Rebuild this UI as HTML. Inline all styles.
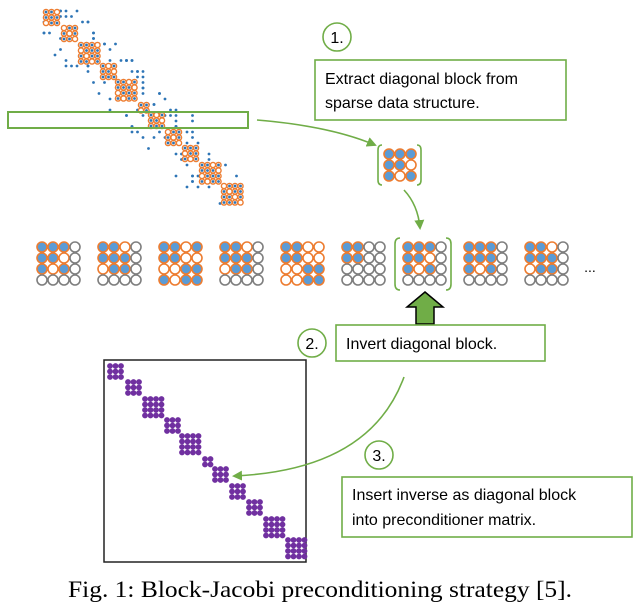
<!DOCTYPE html>
<html><head><meta charset="utf-8"><style>
html,body{margin:0;padding:0;background:#fff;width:637px;height:610px;overflow:hidden}
svg{display:block}
</style></head><body>
<svg id="s" width="637" height="610" viewBox="0 0 637 610" xmlns="http://www.w3.org/2000/svg">
<defs>
<marker id="ah" markerWidth="10" markerHeight="10" refX="8" refY="5" orient="auto" markerUnits="userSpaceOnUse"><path d="M0,0 L10,5 L0,10 z" fill="#70ad47"/></marker>
</defs>
<g id="top"></g>
<rect x="8" y="112" width="240" height="16" fill="none" stroke="#70ad47" stroke-width="2"/>
<path d="M257,120 Q330,126 375,145" fill="none" stroke="#70ad47" stroke-width="1.6" marker-end="url(#ah)"/>
<circle cx="337" cy="37" r="14" fill="#fff" stroke="#70ad47" stroke-width="1.6"/>
<text x="337" y="43" font-family="Liberation Sans, sans-serif" font-size="16" text-anchor="middle">1.</text>
<rect x="315" y="60" width="251" height="60" fill="#fff" stroke="#70ad47" stroke-width="1.6"/>
<text x="325" y="84" font-family="Liberation Sans, sans-serif" font-size="16">Extract diagonal block from</text>
<text x="325" y="108" font-family="Liberation Sans, sans-serif" font-size="16">sparse data structure.</text>
<g id="ext"></g>
<path d="M382,145 Q378,145 378,150 L378,180 Q378,185 382,185" fill="none" stroke="#70ad47" stroke-width="1.6"/>
<path d="M417,145 Q421,145 421,150 L421,180 Q421,185 417,185" fill="none" stroke="#70ad47" stroke-width="1.6"/>
<path d="M404,190 Q418,205 420,228" fill="none" stroke="#70ad47" stroke-width="1.6" marker-end="url(#ah)"/>
<g id="row"></g>
<path d="M400,238 Q395,238 395,244 L395,284 Q395,290 400,290" fill="none" stroke="#70ad47" stroke-width="1.6"/>
<path d="M446,238 Q451,238 451,244 L451,284 Q451,290 446,290" fill="none" stroke="#70ad47" stroke-width="1.6"/>
<text x="590" y="272" font-family="Liberation Sans, sans-serif" font-size="14" text-anchor="middle">...</text>
<path d="M425,292 L443,307 L434,307 L434,324 L416,324 L416,307 L407,307 z" fill="#70ad47" stroke="#000" stroke-width="1.5"/>
<circle cx="312" cy="343" r="14" fill="#fff" stroke="#70ad47" stroke-width="1.6"/>
<text x="312" y="349" font-family="Liberation Sans, sans-serif" font-size="16" text-anchor="middle">2.</text>
<rect x="336" y="325" width="209" height="36" fill="#fff" stroke="#70ad47" stroke-width="1.6"/>
<text x="346" y="349" font-family="Liberation Sans, sans-serif" font-size="16">Invert diagonal block.</text>
<rect x="104" y="360" width="202" height="202" fill="#fff" stroke="#222" stroke-width="1.5"/>
<g id="pur"></g>
<path d="M404,377 Q370,470 234,476" fill="none" stroke="#70ad47" stroke-width="1.6" marker-end="url(#ah)"/>
<circle cx="379" cy="455" r="14" fill="#fff" stroke="#70ad47" stroke-width="1.6"/>
<text x="379" y="461" font-family="Liberation Sans, sans-serif" font-size="16" text-anchor="middle">3.</text>
<rect x="342" y="477" width="290" height="60" fill="#fff" stroke="#70ad47" stroke-width="1.6"/>
<text x="352" y="500" font-family="Liberation Sans, sans-serif" font-size="16">Insert inverse as diagonal block</text>
<text x="352" y="525" font-family="Liberation Sans, sans-serif" font-size="16">into preconditioner matrix.</text>
<text x="68" y="597" font-family="Liberation Serif, serif" font-size="23" textLength="504" lengthAdjust="spacingAndGlyphs">Fig. 1: Block-Jacobi preconditioning strategy [5].</text>
</svg>
<script>
var NS="http://www.w3.org/2000/svg";
function c(g,x,y,r,f,s,w){var e=document.createElementNS(NS,"circle");e.setAttribute("cx",x);e.setAttribute("cy",y);e.setAttribute("r",r);e.setAttribute("fill",f);if(s){e.setAttribute("stroke",s);e.setAttribute("stroke-width",w);}document.getElementById(g).appendChild(e);}
var B="#5b9bd5",O="#ed7d31",G="#7f7f7f",P="#7030a0";
var blocks=[[43,9,3],[61,25,3],[78,42,4],[100,63,3],[115,79,4],[138,102,2],[148,112,3],[165,129,3],[182,145,3],[199,162,4],[221,183,4]];
var cs=5.5;
var seed=7;function rnd(){seed=(seed*9301+49297)%233280;return seed/233280;}
for(var i=0;i<140;i++){var t=rnd();var x=43+t*200;var off=(rnd()<0.5?-1:1)*(9+rnd()*28);var y=9+t*196+off;if(y<9||y>205)continue;x=Math.round(x/5.5)*5.5;y=Math.round(y/5.5)*5.5;c("top",x,y,1.4,"#2e75b6");}
blocks.forEach(function(b){for(var i=0;i<b[2];i++)for(var j=0;j<b[2];j++){var x=b[0]+3+i*cs,y=b[1]+3+j*cs;c("top",x,y,2.6,"#fff",O,1.4);if((i+j*3+b[0])%4!=1)c("top",x,y,1.4,"#2e75b6");}
for(var i=0;i<b[2];i++)for(var j=0;j<b[2];j++){c("pur",b[0]+64+3+i*cs,b[1]+354+3+j*cs,2.9,P);}});
var ep=["FFF","FFO","FOF"];
for(var r=0;r<3;r++)for(var k=0;k<3;k++){var ch=ep[r][k];c("ext",389+k*11,154+r*11,5,ch=="F"?B:"#fff",O,1.6);}
var pats=[["FFFG","FFOG","FOFG","GGGG"],["FFOG","FFFG","OFFG","GGGG"],["FFOF","FFOO","OOFF","FOFF"],["FFOG","FFFG","OFFG","GGGG"],["FFOO","FFOO","OOFF","OOFF"],["FFGG","FFGG","GGGG","GGGG"],["FFFG","FFOG","FOFG","GGGG"],["FFFG","FFFG","FOFG","GGGG"],["FFOG","FFFG","OFFG","GGGG"]];
pats.forEach(function(p,bi){var x0=42+bi*61;for(var r=0;r<4;r++)for(var k=0;k<4;k++){var ch=p[r][k];c("row",x0+k*11,247+r*11,5,ch=="F"?B:"#fff",ch=="G"?G:O,1.6);}});
</script>
</body></html>
